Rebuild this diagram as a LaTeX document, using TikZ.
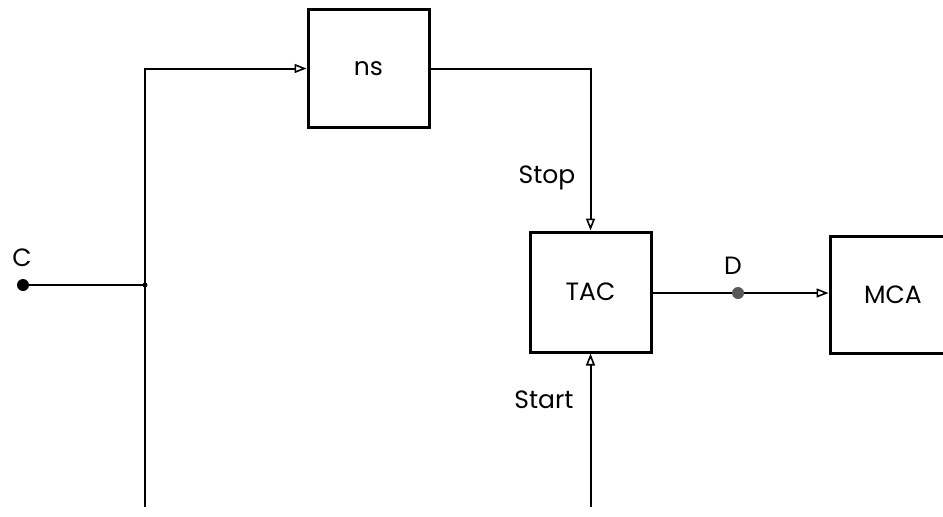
\documentclass[tikz,border=0pt]{standalone}
\usepackage{fontspec}
\setmainfont{Poppins}
\usepackage{tikz}
\usetikzlibrary{arrows.meta, positioning}

\begin{document}
\begin{tikzpicture}[x=1pt, y=-1pt, every node/.style={font=\fontsize{25}{28}\selectfont}, align=center,
    blockbox/.style={draw, rectangle, line width=3pt, minimum width=121pt, minimum height=118pt},
    wire/.style={line width=2pt},
    tip/.style={-{Triangle[open, length=12pt, width=9pt, line width=1.6pt]}}]
  \clip (0,0) rectangle (943,517);
  \node (ns) [blockbox] at (368.5,68.5) {ns};
  \node (tac) [blockbox, minimum height=120pt] at (590.5,292) {TAC};
  \node (mca) [blockbox, minimum width=126pt, minimum height=117pt, text width=110pt] at (893,294.5) {MCA};

  \coordinate (c) at (23,285);
  \coordinate (junc) at (145,285);
  \coordinate (low) at (145,507);
  \coordinate (start) at (590.5,507);
  \coordinate (d) at (738,293);

  \node (clabel) at (22,258) {C};
  \node (dlabel) at (733,266) {D};
  \node (stoplabel) at (547,178) {Stop};
  \node (startlabel) at (544,400) {Start};

  \draw [wire, tip] (low) |- (ns.west);
  \draw [wire] (c) -- (junc);
  \draw [wire, tip] (ns.east) -| (tac.north);
  \draw [wire, tip] (start) -- (tac.south);
  \draw [wire] (tac.east |- d) -- (d);
  \draw [wire, tip] (d) -- (mca.west |- d);
  \fill (c) circle (6pt);
  \fill (junc) circle (2.5pt);
  \fill [gray!70!black] (d) circle (6pt);
\end{tikzpicture}
\end{document}
